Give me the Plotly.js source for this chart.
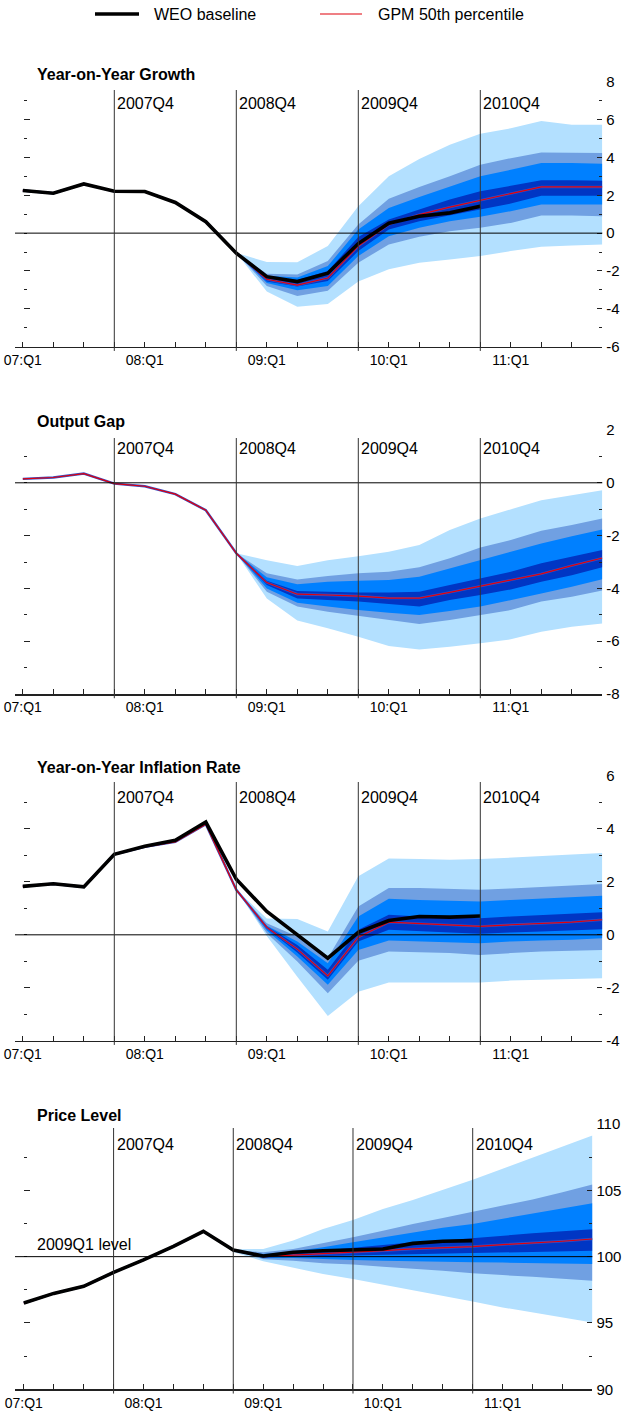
<!DOCTYPE html>
<html><head><meta charset="utf-8">
<script src="https://cdn.plot.ly/plotly-3.0.1.min.js"></script>
<style>html,body{margin:0;padding:0;background:#fff}#chart{width:625px;height:1411px}</style>
</head><body><div id="chart"></div><script>
// ---------------- DATA ----------------
const quarters = ['2007Q1','2007Q2','2007Q3','2007Q4','2008Q1','2008Q2','2008Q3','2008Q4',
  '2009Q1','2009Q2','2009Q3','2009Q4','2010Q1','2010Q2','2010Q3','2010Q4',
  '2011Q1','2011Q2','2011Q3','2011Q4'];
const xTickQuarters = ['2007Q1','2008Q1','2009Q1','2010Q1','2011Q1'];
const xTickLabels = ['07:Q1','08:Q1','09:Q1','10:Q1','11:Q1'];
const markerQuarters = ['2007Q4','2008Q4','2009Q4','2010Q4'];
const fanStartQuarter = '2008Q4';
const legendLabels = ['WEO baseline','GPM 50th percentile'];
const panelTitles = ['Year-on-Year Growth','Output Gap','Year-on-Year Inflation Rate','Price Level'];
const priceRefLabel = '2009Q1 level';

// Year-on-Year Growth
const growthWEO = [2.25,2.11,2.6,2.21,2.2,1.62,0.6,-1.06,-2.3,-2.56,-2.12,-0.55,0.52,0.89,1.07,1.42];
const growthGPM = [2.25,2.11,2.6,2.21,2.2,1.62,0.6,-1.04,-2.44,-2.75,-2.37,-0.68,0.46,0.98,1.37,1.74,2.09,2.44,2.44,2.44];
const growthOuterHi = [-1.04,-1.53,-1.54,-0.68,1.42,3.0,3.91,4.67,5.25,5.54,5.93,5.72,5.72];
const growthWideHi  = [-1.04,-2.14,-2.18,-1.47,0.46,1.81,2.44,3.0,3.61,3.96,4.26,4.26,4.23];
const growthMidHi   = [-1.04,-2.25,-2.35,-1.74,0.19,1.33,1.91,2.47,3.0,3.35,3.70,3.70,3.67];
const growthInnerHi = [-1.04,-2.33,-2.47,-2.0,-0.21,0.72,1.25,1.77,2.21,2.51,2.79,2.79,2.77];
const growthInnerLo = [-1.04,-2.55,-2.82,-2.53,-0.95,0.19,0.63,0.98,1.25,1.56,1.98,1.98,1.98];
const growthMidLo   = [-1.04,-2.63,-3.02,-2.79,-1.21,-0.16,0.28,0.63,0.86,1.16,1.51,1.51,1.51];
const growthWideLo  = [-1.04,-2.79,-3.32,-3.05,-1.56,-0.6,-0.19,0.1,0.28,0.54,0.93,0.93,0.89];
const growthOuterLo = [-1.04,-3.09,-3.89,-3.75,-2.56,-1.91,-1.56,-1.39,-1.21,-0.95,-0.72,-0.65,-0.6];

// Output Gap
const gapGPM = [0.15,0.2,0.35,-0.03,-0.13,-0.43,-1.04,-2.67,-3.78,-4.22,-4.25,-4.29,-4.37,-4.37,-4.15,-3.91,-3.69,-3.45,-3.14,-2.85];
const gapOuterHi = [-2.67,-2.93,-3.15,-2.93,-2.78,-2.61,-2.36,-1.79,-1.35,-1.01,-0.66,-0.47,-0.28];
const gapWideHi  = [-2.67,-3.43,-3.66,-3.53,-3.43,-3.37,-3.2,-2.86,-2.45,-2.17,-1.82,-1.6,-1.35];
const gapMidHi   = [-2.67,-3.58,-3.84,-3.75,-3.71,-3.68,-3.56,-3.24,-2.93,-2.61,-2.3,-2.02,-1.77];
const gapInnerHi = [-2.67,-3.71,-4.1,-4.13,-4.16,-4.16,-4.13,-3.87,-3.62,-3.37,-3.05,-2.8,-2.55];
const gapInnerLo = [-2.67,-3.87,-4.38,-4.44,-4.5,-4.59,-4.69,-4.44,-4.25,-4.04,-3.75,-3.5,-3.2];
const gapMidLo   = [-2.67,-4.0,-4.54,-4.69,-4.82,-4.92,-5.01,-4.86,-4.69,-4.44,-4.19,-3.94,-3.65];
const gapWideLo  = [-2.67,-4.13,-4.69,-4.88,-5.05,-5.2,-5.35,-5.2,-5.01,-4.82,-4.5,-4.32,-4.08];
const gapOuterLo = [-2.67,-4.38,-5.22,-5.51,-5.83,-6.18,-6.31,-6.21,-6.08,-5.93,-5.64,-5.45,-5.33];

// Year-on-Year Inflation Rate
const inflWEO = [1.83,1.93,1.81,3.04,3.35,3.57,4.26,2.1,0.88,0.0,-0.88,0.09,0.54,0.69,0.67,0.71];
const inflGPM = [1.83,1.93,1.81,3.04,3.32,3.51,4.18,1.7,0.28,-0.54,-1.55,-0.09,0.48,0.42,0.38,0.32,0.38,0.42,0.48,0.57];
const inflOuterHi = [1.7,0.62,0.6,0.13,2.21,2.88,2.86,2.84,2.86,2.91,2.97,3.03,3.09];
const inflWideHi  = [1.7,0.44,-0.06,-0.88,1.07,1.77,1.77,1.73,1.7,1.75,1.8,1.85,1.92];
const inflMidHi   = [1.7,0.34,-0.25,-1.07,0.69,1.36,1.32,1.3,1.26,1.32,1.38,1.43,1.48];
const inflInnerHi = [1.7,0.32,-0.38,-1.32,0.19,0.76,0.69,0.67,0.63,0.69,0.74,0.79,0.85];
const inflInnerLo = [1.7,0.23,-0.67,-1.7,-0.25,0.19,0.13,0.09,0.04,0.09,0.13,0.16,0.21];
const inflMidLo   = [1.7,0.16,-0.82,-1.89,-0.57,-0.21,-0.25,-0.29,-0.32,-0.25,-0.21,-0.19,-0.13];
const inflWideLo  = [1.7,0.06,-1.01,-2.21,-0.98,-0.63,-0.67,-0.69,-0.76,-0.69,-0.63,-0.59,-0.57];
const inflOuterLo = [1.7,-0.04,-1.58,-3.07,-2.15,-1.8,-1.8,-1.79,-1.8,-1.73,-1.7,-1.67,-1.64];

// Price Level (2009Q1 = 100)
const priceWEO = [96.5,97.23,97.76,98.82,99.75,100.78,101.91,100.5,100.05,100.33,100.45,100.5,100.58,101.0,101.16,101.21];
const priceGPM = [96.5,97.23,97.76,98.82,99.75,100.78,101.91,100.5,100.0,100.1,100.2,100.33,100.45,100.58,100.65,100.76,100.91,101.03,101.16,101.33];
const priceOuterHi = [100.55,100.58,101.21,102.09,102.77,103.6,104.28,105.04,105.79,106.62,107.46,108.26,109.14];
const priceWideHi  = [100.5,100.33,100.58,101.0,101.46,101.96,102.47,102.92,103.4,103.85,104.31,104.86,105.44];
const priceMidHi   = [100.5,100.2,100.4,100.7,101.08,101.46,101.84,102.17,102.47,102.85,103.22,103.6,104.03];
const priceInnerHi = [100.5,100.13,100.25,100.45,100.65,100.83,101.08,101.21,101.41,101.59,101.76,101.91,102.07];
const priceInnerLo = [100.5,99.95,100.0,100.0,100.08,100.13,100.15,100.2,100.25,100.3,100.35,100.4,100.45];
const priceMidLo   = [100.5,99.87,99.9,99.8,99.75,99.7,99.65,99.6,99.57,99.55,99.52,99.5,99.45];
const priceWideLo  = [100.5,99.8,99.7,99.5,99.4,99.24,99.07,98.94,98.74,98.61,98.49,98.36,98.19];
const priceOuterLo = [100.35,99.65,99.19,98.69,98.31,97.88,97.48,97.05,96.62,96.17,95.79,95.42,95.04];

// tick values / labels for the value axes
const growthTicks = [-6,-4,-2,0,2,4,6,8];
const growthTickText = ['-6','-4','-2','0','2','4','6','8'];
const gapTicks = [-8,-6,-4,-2,0,2];
const gapTickText = ['-8','-6','-4','-2','0','2'];
const inflTicks = [-4,-2,0,2,4,6];
const inflTickText = ['-4','-2','0','2','4','6'];
const priceTicks = [90,95,100,105,110];
const priceTickText = ['90','95','100','105','110'];

// ---------------- STYLE / LAYOUT ----------------
const W = 625, H = 1411;
const FONT = 'Liberation Sans, Arial, sans-serif';
const C_OUTER = '#b3e0ff', C_WIDE = '#70a0e2', C_MID = '#0080ff', C_INNER = '#0036c4';
const C_RED = '#e0000b', C_EDGE = '#3350c8', AX = '#222';
const qi = q => quarters.indexOf(q);
const xAll = quarters.map((q, i) => i);
const fanStart = qi(fanStartQuarter);
const px = x => x / W;
const py = y => 1 - y / H;

const panels = [
  {title: panelTitles[0], weo: growthWEO, gpm: growthGPM,
   bands: [[growthOuterHi, growthOuterLo, C_OUTER],[growthWideHi, growthWideLo, C_WIDE],[growthMidHi, growthMidLo, C_MID],[growthInnerHi, growthInnerLo, C_INNER]],
   range: [-6, 8], ticks: growthTicks, tickText: growthTickText, minor: 1, ref: 0,
   top: 81.7, bottom: 346.7, xl: 15, xr: 602.3, xr0: -0.256, titleY: 74, vTop: 90, vLab: 103},
  {title: panelTitles[1], weo: null, gpm: gapGPM,
   bands: [[gapOuterHi, gapOuterLo, C_OUTER],[gapWideHi, gapWideLo, C_WIDE],[gapMidHi, gapMidLo, C_MID],[gapInnerHi, gapInnerLo, C_INNER]],
   range: [-8, 2], ticks: gapTicks, tickText: gapTickText, minor: 1, ref: 0,
   top: 430, bottom: 694, xl: 15, xr: 602.3, xr0: -0.256, titleY: 422, vTop: 438, vLab: 449},
  {title: panelTitles[2], weo: inflWEO, gpm: inflGPM,
   bands: [[inflOuterHi, inflOuterLo, C_OUTER],[inflWideHi, inflWideLo, C_WIDE],[inflMidHi, inflMidLo, C_MID],[inflInnerHi, inflInnerLo, C_INNER]],
   range: [-4, 6], ticks: inflTicks, tickText: inflTickText, minor: 1, ref: 0,
   top: 776, bottom: 1040.7, xl: 15, xr: 602.3, xr0: -0.256, titleY: 767, vTop: 782, vLab: 797},
  {title: panelTitles[3], weo: priceWEO, gpm: priceGPM,
   bands: [[priceOuterHi, priceOuterLo, C_OUTER],[priceWideHi, priceWideLo, C_WIDE],[priceMidHi, priceMidLo, C_MID],[priceInnerHi, priceInnerLo, C_INNER]],
   range: [90, 110], ticks: priceTicks, tickText: priceTickText, minor: 2.5, ref: 100,
   top: 1124, bottom: 1389.3, xl: 15, xr: 592.4, xr0: -0.294, titleY: 1115, vTop: 1128, vLab: 1144}
];

const data = [], shapes = [], annotations = [];
const layout = {
  width: W, height: H, margin: {l: 0, r: 0, t: 0, b: 0},
  paper_bgcolor: '#fff', plot_bgcolor: 'rgba(0,0,0,0)', showlegend: false,
  font: {family: FONT, color: '#000', size: 14}
};

panels.forEach((p, k) => {
  const n = k + 1;
  const xa = n === 1 ? 'x' : 'x' + n;
  const ya = n === 1 ? 'y' : 'y' + n;
  const yl = 'y' + (n + 4);
  const fanX = xAll.slice(fanStart, fanStart + p.bands[0][0].length);
  p.bands.forEach(([hi, lo, col]) => {
    data.push({type: 'scatter', mode: 'lines', xaxis: xa, yaxis: ya,
      x: fanX.concat(fanX.slice().reverse()), y: hi.concat(lo.slice().reverse()),
      fill: 'toself', fillcolor: col, line: {width: 0}, hoverinfo: 'skip'});
  });
  const gx = xAll.slice(0, p.gpm.length);
  data.push({type: 'scatter', mode: 'lines', xaxis: xa, yaxis: ya, x: gx, y: p.gpm,
    line: {color: C_EDGE, width: 2.4}, hoverinfo: 'skip'});
  data.push({type: 'scatter', mode: 'lines', xaxis: xa, yaxis: ya, x: gx, y: p.gpm,
    line: {color: C_RED, width: 1.2}, hoverinfo: 'skip'});
  if (p.weo) {
    data.push({type: 'scatter', mode: 'lines', xaxis: xa, yaxis: ya, x: xAll.slice(0, p.weo.length), y: p.weo,
      line: {color: '#000', width: 3.6}, hoverinfo: 'skip'});
  }
  data.push({type: 'scatter', mode: 'lines', xaxis: xa, yaxis: yl, x: [], y: [], hoverinfo: 'skip'});

  const xdom = [px(p.xl), px(p.xr)];
  layout['xaxis' + (n === 1 ? '' : n)] = {
    domain: xdom, range: [p.xr0, quarters.length - 1], anchor: ya,
    showgrid: false, zeroline: false, showline: true, linecolor: AX, linewidth: 1.5,
    ticks: 'inside', ticklen: 5, tickcolor: AX, tickwidth: 1,
    tickmode: 'array', tickvals: xTickQuarters.map(qi), ticktext: xTickLabels,
    tickfont: {size: 14, family: FONT}, ticklabelstandoff: 0,
    minor: {tickmode: 'linear', tick0: 0, dtick: 1, ticks: 'inside', ticklen: 5, tickcolor: AX},
    fixedrange: true
  };
  const ydom = [py(p.bottom), py(p.top)];
  layout['yaxis' + (n === 1 ? '' : n)] = {
    domain: ydom, range: p.range, anchor: xa, side: 'right',
    showgrid: false, zeroline: false, showline: false,
    ticks: 'inside', ticklen: 5, tickcolor: AX,
    tickmode: 'array', tickvals: p.ticks, ticktext: p.tickText,
    tickfont: {size: 15, family: FONT}, ticklabelstandoff: 3,
    minor: {tickmode: 'linear', tick0: p.range[0], dtick: p.minor, ticks: 'inside', ticklen: 3, tickcolor: AX},
    fixedrange: true
  };
  layout['yaxis' + (n + 4)] = {
    overlaying: ya, anchor: 'free', position: px(p.xl + 8), side: 'left', range: p.range,
    showgrid: false, zeroline: false, showline: false, showticklabels: false,
    ticks: 'inside', ticklen: 6, tickcolor: AX,
    tickmode: 'array', tickvals: p.ticks.filter(v => v !== p.ref),
    minor: {tickmode: 'linear', tick0: p.range[0], dtick: p.minor, ticks: 'inside', ticklen: 3, tickcolor: AX},
    fixedrange: true
  };

  // reference (zero / 100) line
  shapes.push({type: 'line', xref: xa + ' domain', yref: ya, x0: 0, x1: 1, y0: p.ref, y1: p.ref,
    line: {color: '#000', width: 1}, layer: 'above'});
  // vertical year-end markers
  const vTopFrac = (p.bottom - p.vTop) / (p.bottom - p.top);
  markerQuarters.forEach(q => {
    shapes.push({type: 'line', xref: xa, yref: ya + ' domain', x0: qi(q), x1: qi(q), y0: -0.016, y1: vTopFrac,
      line: {color: '#333', width: 1}, layer: 'above'});
    annotations.push({xref: xa, yref: 'paper', x: qi(q), y: py(p.vLab), text: q, showarrow: false,
      xanchor: 'left', yanchor: 'middle', xshift: 1, font: {size: 16, family: FONT}});
  });
  annotations.push({xref: 'paper', yref: 'paper', x: px(35), y: py(p.titleY), text: '<b>' + p.title + '</b>',
    showarrow: false, xanchor: 'left', yanchor: 'middle', font: {size: 16, family: FONT}});
});

annotations.push({xref: 'paper', yref: 'paper', x: px(35), y: py(1244), text: priceRefLabel, showarrow: false,
  xanchor: 'left', yanchor: 'middle', font: {size: 16, family: FONT}});

// legend
shapes.push({type: 'line', xref: 'paper', yref: 'paper', x0: px(95), x1: px(139), y0: py(14), y1: py(14),
  line: {color: '#000', width: 3.5}});
shapes.push({type: 'line', xref: 'paper', yref: 'paper', x0: px(320), x1: px(362), y0: py(14), y1: py(14),
  line: {color: C_RED, width: 1.2}});
annotations.push({xref: 'paper', yref: 'paper', x: px(152), y: py(14), text: legendLabels[0], showarrow: false,
  xanchor: 'left', yanchor: 'middle', font: {size: 16, family: FONT}});
annotations.push({xref: 'paper', yref: 'paper', x: px(376), y: py(14), text: legendLabels[1], showarrow: false,
  xanchor: 'left', yanchor: 'middle', font: {size: 16, family: FONT}});

layout.shapes = shapes;
layout.annotations = annotations;
Plotly.newPlot('chart', data, layout, {staticPlot: true, displayModeBar: false});
</script></body></html>
